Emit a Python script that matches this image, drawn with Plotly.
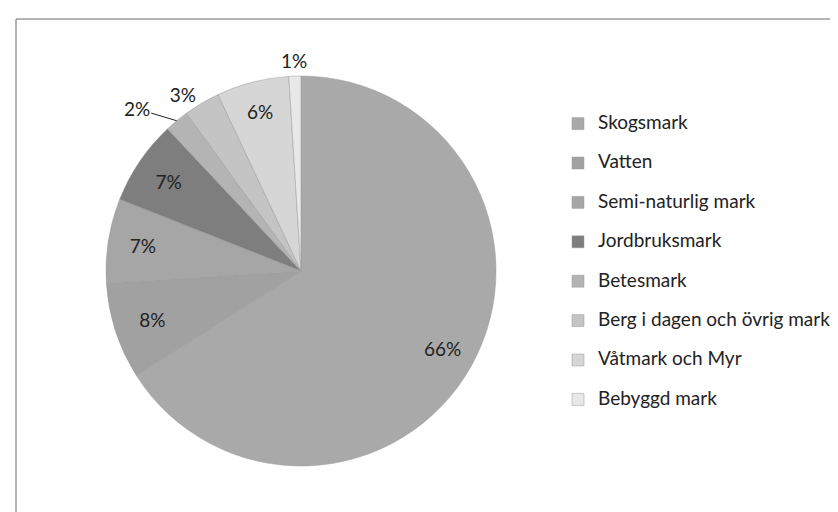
import math
import plotly.graph_objects as go

categories = ["Skogsmark", "Vatten", "Semi-naturlig mark", "Jordbruksmark",
              "Betesmark", "Berg i dagen och övrig mark", "Våtmark och Myr", "Bebyggd mark"]
shares = [66, 8, 7, 7, 2, 3, 6, 1]
slice_colors = ["#a9a9a9", "#a1a1a1", "#a6a6a6", "#7e7e7e",
                "#b4b4b4", "#c4c4c4", "#d6d6d6", "#e8e8e8"]
# native Plotly label placement per slice ("none" = label drawn as annotation below)
label_positions = ["none", "inside", "inside", "inside",
                   "none", "outside", "inside", "none"]

W, H = 838, 512
FONT = "Lato, 'Open Sans', sans-serif"

# pie geometry (pixels) -> domain
PIE_L, PIE_R, PIE_T, PIE_B = 98, 488, 68, 458
CX, CY, RAD = (PIE_L + PIE_R) / 2, (PIE_T + PIE_B) / 2, (PIE_R - PIE_L) / 2

legend_text = [f"<span style='font-size:19px'>{c}</span><br>&nbsp;" for c in categories]

fig = go.Figure(go.Pie(
    labels=legend_text,
    values=shares,
    sort=False,
    direction="clockwise",
    rotation=0,
    marker=dict(colors=slice_colors, line=dict(color="#9a9a9a", width=0.5)),
    texttemplate="%{percent:.0%}",
    textposition=label_positions,
    insidetextorientation="horizontal",
    textfont=dict(family=FONT, size=19, color="#222222"),
    domain=dict(x=[PIE_L / W, PIE_R / W], y=[1 - PIE_B / H, 1 - PIE_T / H]),
    hoverinfo="skip",
))


def slice_point(idx, rfrac):
    total = sum(shares)
    before = sum(shares[:idx])
    mid = (before + shares[idx] / 2) / total * 2 * math.pi
    px = CX + rfrac * RAD * math.sin(mid)
    py = CY - rfrac * RAD * math.cos(mid)
    return px / W, 1 - py / H


total = sum(shares)
lab_font = dict(family=FONT, size=19, color="#222222")
annotations = []
# large slice label, placed toward the rim (Excel best-fit style)
x66, y66 = slice_point(0, 0.83)
annotations.append(dict(x=x66, y=y66, xref="paper", yref="paper",
                        xanchor="center", yanchor="middle",
                        text=f"{shares[0] / total:.0%}", showarrow=False, font=lab_font))
# tiny top slice label just outside the rim
x1, y1 = slice_point(7, 1.08)
annotations.append(dict(x=x1, y=y1, xref="paper", yref="paper",
                        xanchor="center", yanchor="middle",
                        text=f"{shares[7] / total:.0%}", showarrow=False, font=lab_font))
# small slice label with leader line
x2, y2 = slice_point(4, 1.0)
annotations.append(dict(x=x2, y=y2, xref="paper", yref="paper",
                        text=f"{shares[4] / total:.0%}", showarrow=True,
                        arrowhead=0, arrowwidth=1, arrowcolor="#222222",
                        ax=-40, ay=-12, standoff=0, font=lab_font))

fig.update_layout(
    width=W, height=H,
    margin=dict(l=0, r=0, t=0, b=0),
    paper_bgcolor="white",
    font=dict(family=FONT, color="#222222"),
    showlegend=True,
    legend=dict(
        x=550 / W, xanchor="left",
        y=1 - 100 / H, yanchor="top",
        font=dict(family=FONT, size=14, color="#222222"),
        valign="top",
        bgcolor="rgba(0,0,0,0)",
        itemclick=False, itemdoubleclick=False,
    ),
    annotations=annotations,
    shapes=[dict(type="rect", xref="paper", yref="paper",
                 x0=8 / W, x1=1.02, y0=-0.02, y1=1 - 11 / H,
                 line=dict(color="#6a6a6a", width=1), fillcolor="rgba(0,0,0,0)")],
)

fig.write_html("out.html")
